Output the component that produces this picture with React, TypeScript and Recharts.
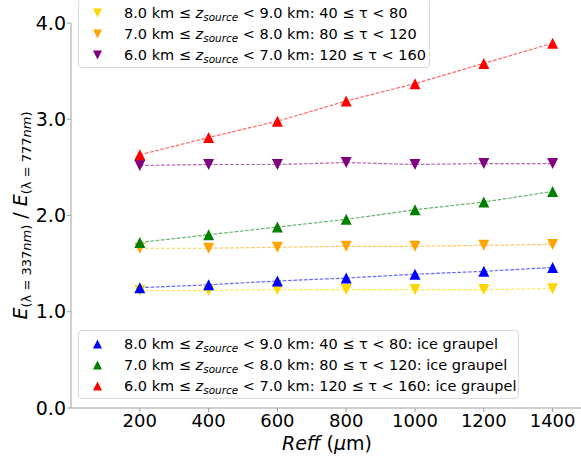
import { ComposedChart, Line, XAxis, YAxis, Label } from "recharts";

// effective radius (um)
const reffValues = [200, 400, 600, 800, 1000, 1200, 1400];

// downward triangles
const ratio8to9 = [1.22, 1.22, 1.23, 1.23, 1.23, 1.23, 1.24];
const ratio7to8 = [1.66, 1.66, 1.67, 1.68, 1.68, 1.69, 1.7];
const ratio6to7 = [2.52, 2.53, 2.53, 2.55, 2.53, 2.54, 2.54];

// upward triangles, ice graupel
const graupel8to9 = [1.25, 1.28, 1.32, 1.35, 1.39, 1.42, 1.46];
const graupel7to8 = [1.72, 1.8, 1.88, 1.96, 2.06, 2.14, 2.25];
const graupel6to7 = [2.63, 2.81, 2.98, 3.19, 3.37, 3.58, 3.79];

const xTicks = [200, 400, 600, 800, 1000, 1200, 1400];
const yTicks = [0, 1, 2, 3, 4];

const chartData = reffValues.map((reff, i) => ({
  reff,
  r89: ratio8to9[i],
  r78: ratio7to8[i],
  r67: ratio6to7[i],
  g89: graupel8to9[i],
  g78: graupel7to8[i],
  g67: graupel6to7[i],
}));

const topSeries = [
  { key: "r89", color: "#FFD700", lo: "8.0", hi: "9.0", tau: "40 ≤ τ < 80" },
  { key: "r78", color: "#FFA500", lo: "7.0", hi: "8.0", tau: "80 ≤ τ < 120" },
  { key: "r67", color: "#800080", lo: "6.0", hi: "7.0", tau: "120 ≤ τ < 160" },
];

const bottomSeries = [
  { key: "g89", color: "#0000FF", lo: "8.0", hi: "9.0", tau: "40 ≤ τ < 80" },
  { key: "g78", color: "#008000", lo: "7.0", hi: "8.0", tau: "80 ≤ τ < 120" },
  { key: "g67", color: "#FF0000", lo: "6.0", hi: "7.0", tau: "120 ≤ τ < 160" },
];

const FONT = "'DejaVu Sans', sans-serif";
const AXIS_GRAY = "#a0a0a0";

function trianglePath(cx: number, cy: number, s: number, up: boolean) {
  const h = s / 2;
  return up
    ? `M${cx},${cy - h} L${cx + h},${cy + h} L${cx - h},${cy + h} Z`
    : `M${cx},${cy + h} L${cx + h},${cy - h} L${cx - h},${cy - h} Z`;
}

const makeDot = (color: string, up: boolean) => (props: any) => {
  const { cx, cy, index } = props;
  if (cx == null || cy == null) return <g key={index} />;
  return <path key={index} d={trianglePath(cx, cy, 11, up)} fill={color} />;
};

function LegendMarker({ color, up }: { color: string; up: boolean }) {
  return (
    <svg width={13} height={12} style={{ flex: "none" }}>
      <path d={trianglePath(6.5, 6, 9, up)} fill={color} />
    </svg>
  );
}

function LegendText({ lo, hi, tau, suffix }: { lo: string; hi: string; tau: string; suffix?: string }) {
  return (
    <span style={{ marginLeft: 20, whiteSpace: "nowrap" }}>
      {lo} km ≤ <i>z</i>
      <span style={{ fontSize: "0.72em", fontStyle: "italic", position: "relative", top: "0.3em", lineHeight: 0 }}>source</span>{" "}
      &lt; {hi} km: {tau}
      {suffix}
    </span>
  );
}

function LegendBox({ series, up, suffix, style }: { series: typeof topSeries; up: boolean; suffix?: string; style: any }) {
  return (
    <div
      style={{
        position: "absolute",
        background: "#fff",
        border: "1px solid #d9d9d9",
        borderRadius: 4,
        boxSizing: "border-box",
        paddingLeft: 12,
        fontSize: 14.5,
        fontFamily: FONT,
        color: "#000",
        ...style,
      }}
    >
      {series.map((s) => (
        <div key={s.key} style={{ display: "flex", alignItems: "center", height: 21 }}>
          <LegendMarker color={s.color} up={up} />
          <LegendText lo={s.lo} hi={s.hi} tau={s.tau} suffix={suffix} />
        </div>
      ))}
    </div>
  );
}

function YLabel(props: any) {
  const { viewBox } = props;
  const x = viewBox.x + 27;
  const y = viewBox.y + viewBox.height / 2;
  return (
    <text x={x} y={y} transform={`rotate(-90, ${x}, ${y})`} textAnchor="middle" fontFamily={FONT} fontSize={19} fill="#000">
      <tspan fontStyle="italic">E</tspan>
      <tspan fontSize={13} dy={4}>(λ = 337</tspan>
      <tspan fontSize={13} fontStyle="italic">nm</tspan>
      <tspan fontSize={13}>)</tspan>
      <tspan dy={-4}> / </tspan>
      <tspan fontStyle="italic">E</tspan>
      <tspan fontSize={13} dy={4}>(λ = 777</tspan>
      <tspan fontSize={13} fontStyle="italic">nm</tspan>
      <tspan fontSize={13}>)</tspan>
    </text>
  );
}

function XLabel(props: any) {
  const { viewBox } = props;
  return (
    <text x={viewBox.x + viewBox.width / 2 - 2} y={viewBox.y + 42} textAnchor="middle" fontFamily={FONT} fontSize={19} fill="#000">
      <tspan fontStyle="italic">Reff</tspan>
      <tspan> (</tspan>
      <tspan fontStyle="italic">μ</tspan>
      <tspan>m)</tspan>
    </text>
  );
}

export default function App() {
  return (
    <div
      style={{
        position: "fixed",
        left: 0,
        top: 0,
        width: 581,
        height: 457,
        overflow: "hidden",
        background: "#fff",
        fontFamily: FONT,
      }}
    >
      <ComposedChart width={587} height={457} data={chartData} margin={{ top: 23, right: 0, bottom: 0, left: 0 }}>
        <XAxis
          dataKey="reff"
          type="number"
          domain={[0, 1500]}
          ticks={xTicks}
          allowDataOverflow
          height={49}
          tickSize={4}
          tickMargin={2}
          tick={{ fill: "#000", fontSize: 18, fontFamily: FONT }}
          tickLine={{ stroke: AXIS_GRAY }}
          axisLine={{ stroke: AXIS_GRAY }}
        >
          <Label content={<XLabel />} />
        </XAxis>
        <YAxis
          type="number"
          domain={[0, 4]}
          ticks={yTicks}
          width={71}
          tickSize={4}
          tickMargin={1}
          tickFormatter={(v: number) => v.toFixed(1)}
          tick={{ fill: "#000", fontSize: 19, fontFamily: FONT }}
          tickLine={{ stroke: AXIS_GRAY }}
          axisLine={{ stroke: AXIS_GRAY }}
        >
          <Label content={<YLabel />} />
        </YAxis>
        <XAxis xAxisId="top" orientation="top" dataKey="reff" type="number" domain={[0, 1500]} height={0} tick={false} tickLine={false} axisLine={{ stroke: AXIS_GRAY }} />
        {[...topSeries.map((s) => ({ ...s, up: false })), ...bottomSeries.map((s) => ({ ...s, up: true }))].map((s) => (
          <Line
            key={s.key}
            dataKey={s.key}
            type="linear"
            stroke={s.color}
            strokeOpacity={0.6}
            strokeWidth={1.2}
            strokeDasharray="3.7 1.6"
            dot={makeDot(s.color, s.up)}
            activeDot={false}
            isAnimationActive={false}
          />
        ))}
      </ComposedChart>
      <LegendBox series={topSeries} up={false} style={{ left: 78, top: -2, width: 352, height: 70, paddingTop: 3.5 }} />
      <LegendBox series={bottomSeries} up={true} suffix=": ice graupel" style={{ left: 78, top: 330, width: 441, height: 69, paddingTop: 2 }} />
    </div>
  );
}
